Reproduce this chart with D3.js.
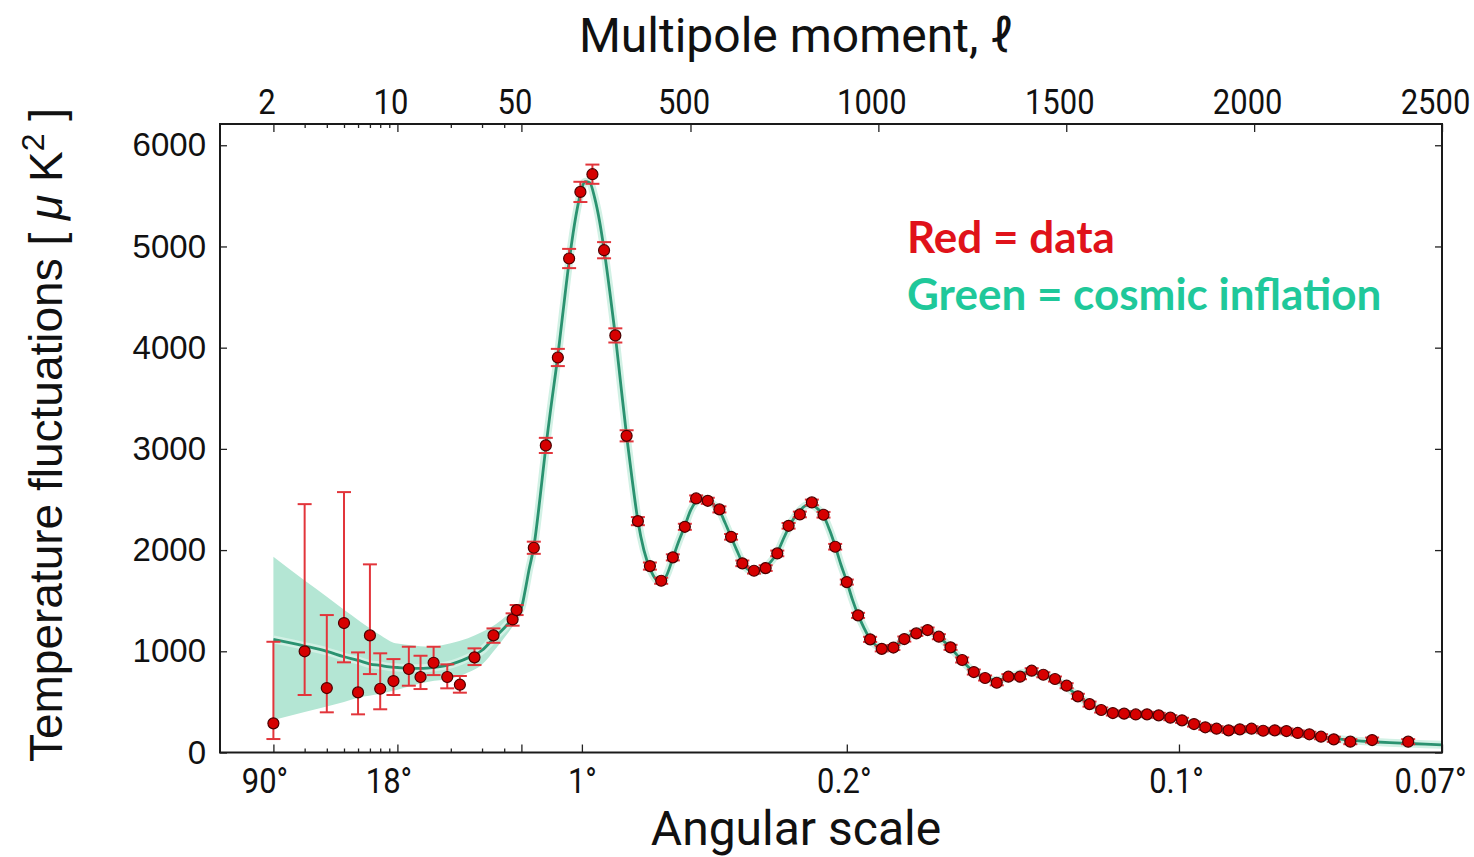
<!DOCTYPE html>
<html><head><meta charset="utf-8">
<script src="https://cdn.jsdelivr.net/npm/d3@7"></script>
<style>
body{margin:0;background:#fff}
svg{display:block}
.tk text{font-family:Roboto,"DejaVu Sans",sans-serif;font-size:36px;fill:#111}
.yt text{font-family:"Liberation Sans",Arial,sans-serif;font-size:33px;fill:#111}
.tk line,.yt line{stroke:#222;stroke-width:1.3}
</style>
</head><body><svg id="c" width="1474" height="857"></svg>
<script>
// ---------- tick definitions ----------
const topTicks = [2,10,50,500,1000,1500,2000,2500];
const topTickLabels = ["2","10","50","500","1000","1500","2000","2500"];
const logMinorTicks = [3,4,5,6,7,8,9,20,30,40];
const angleTickEll = [2,10,50,211,916,1800,2500];
const angleTickLabels = ["90°","18°","","1°","0.2°","0.1°","0.07°"];
const yTicks = [0,1000,2000,3000,4000,5000,6000];

// ---------- low-l data (asymmetric error bars) ----------
const lowEll  = [2,3,4,5,6,7,8,9.5,11.6,13.5,16,19.1,22.5,27.2,34.8,44.6,47];
const lowVal  = [288,1000,637,1279,594,1157,630,706,825,746,887,746,670,940,1157,1315,1407];
const lowLo   = [133,568,397,891,377,775,427,568,660,627,765,634,591,864,1084,1253,1358];
const lowHi   = [1094,2454,1358,2573,989,1859,980,923,1045,956,1045,871,756,1029,1226,1375,1457];

// ---------- high-l binned data ----------
const highEll = [83,115,147,177,207,239,270,300,330,360,392,422,453,485,515,546,577,608,638,669,700,731,761,791,823,854,885,916,946,978,1009,1040,1069,1101,1131,1161,1192,1223,1254,1284,1315,1346,1377,1408,1439,1470,1501,1531,1562,1593,1624,1654,1685,1715,1746,1777,1808,1840,1870,1900,1932,1962,1993,2024,2055,2086,2116,2147,2178,2212,2256,2314,2410];
const highVal = [2023,3034,3903,4881,5539,5714,4963,4121,3129,2286,1842,1697,1928,2230,2510,2487,2402,2131,1869,1796,1822,1967,2240,2352,2471,2349,2033,1684,1355,1118,1024,1037,1121,1177,1210,1144,1039,914,795,736,689,749,749,808,768,726,660,555,478,420,390,384,376,377,367,344,318,281,249,235,219,229,235,215,219,212,193,180,156,130,107,123,107];
const highErr = [60,75,85,95,100,95,80,70,55,40,35,30,30,30,30,30,30,28,28,28,28,28,28,28,28,28,28,25,25,25,25,25,25,25,25,25,25,25,25,25,25,25,25,25,25,25,25,25,25,25,25,25,25,25,25,25,25,25,25,25,25,25,25,25,25,25,25,25,25,25,25,25,25];

// ---------- theory (cosmic inflation) curve ----------
const theoryEll = [2,3,4,5,6,7,8,9,10,12,14,16,19,22,25,30,35,40,45,50,60,70,83,100,115,130,147,160,177,195,207,220,232,245,258,270,285,300,315,330,345,360,376,392,407,420,435,452,468,485,500,515,530,546,561,577,592,608,623,638,653,669,685,700,715,731,746,761,776,791,807,820,835,854,870,885,900,916,931,946,962,978,993,1009,1025,1040,1055,1069,1085,1101,1116,1131,1146,1161,1177,1192,1208,1223,1238,1254,1269,1284,1300,1315,1330,1346,1361,1377,1392,1408,1423,1439,1454,1470,1485,1501,1516,1531,1547,1562,1578,1593,1608,1624,1639,1654,1670,1685,1700,1715,1731,1746,1762,1777,1793,1808,1824,1840,1855,1870,1885,1900,1916,1932,1947,1962,1978,1993,2009,2024,2040,2055,2070,2086,2101,2116,2131,2147,2162,2178,2195,2212,2235,2256,2285,2314,2360,2410,2455,2500];
const theoryVal = [1118,1052,1000,946,910,874,860,845,840,832,832,840,860,895,935,1010,1130,1230,1330,1430,1600,1800,2030,2530,3020,3450,3920,4330,4850,5300,5520,5640,5630,5480,5250,4970,4560,4120,3620,3130,2690,2290,2000,1820,1715,1690,1740,1910,2080,2240,2390,2480,2510,2490,2450,2390,2270,2130,2000,1880,1810,1790,1795,1830,1890,1975,2100,2220,2320,2390,2440,2450,2420,2340,2200,2040,1860,1690,1510,1360,1230,1120,1060,1030,1030,1045,1080,1120,1160,1190,1205,1205,1180,1140,1090,1035,970,905,850,795,760,735,720,715,725,745,765,780,790,790,780,765,745,720,690,650,605,560,515,478,448,425,408,395,388,383,380,377,375,372,368,362,355,344,330,316,300,283,266,252,242,234,228,224,222,222,222,221,219,216,213,210,206,201,195,189,182,175,167,158,148,139,129,121,113,106,97,89,82,76];

// ---------- cosmic variance band (low l) ----------
const bandEll  = [2,3,4,5,6,8,9.5,10,12,15,20,25,30,36,42,47,50];
const bandLow  = [321,400,455,500,540,580,610,620,660,700,730,790,870,1030,1180,1300,1360];
const bandHigh = [1934,1700,1540,1410,1310,1160,1085,1078,1060,1045,1080,1130,1190,1269,1360,1424,1500];

// ---------- layout ----------
const L = 220, T = 124, W = 1222, H = 628.5, SPLIT = 301.4;
const angleLabelNudge = [-9,-9,0,0,-3,-3,-12];
const svg = d3.select("#c");
svg.append("rect").attr("width",1474).attr("height",857).attr("fill","#fff");
const g = svg.append("g").attr("transform",`translate(${L},${T})`);

const xLog = d3.scaleLog().domain([1,50]).range([0,SPLIT]);
const xLin = d3.scaleLinear().domain([50,2500]).range([SPLIT,W]);
function x(v){ return v <= 50 ? xLog(v) : xLin(v); }
x.domain = () => [1,2500];
x.range = () => [0,W];
x.copy = () => x;
const y = d3.scaleLinear().domain([0,6210]).range([H,0]);

// band
const band = bandEll.map((l,i)=>({l, lo:bandLow[i], hi:bandHigh[i]}));
g.append("path").datum(band)
  .attr("d", d3.area().x(d=>x(d.l)).y0(d=>y(d.lo)).y1(d=>y(d.hi)).curve(d3.curveMonotoneX))
  .attr("fill","#b4e6d4");

// theory
const theory = theoryEll.map((l,i)=>({l, v:theoryVal[i]}));
const line = d3.line().x(d=>x(d.l)).y(d=>y(d.v)).curve(d3.curveMonotoneX);
g.append("path").datum(theory).attr("d",line)
  .attr("fill","none").attr("stroke","#d2f1e5").attr("stroke-width",8).attr("stroke-linejoin","round");
g.append("path").datum(theory).attr("d",line)
  .attr("fill","none").attr("stroke","#2a9270").attr("stroke-width",2.8);

// data
const pts = lowEll.map((l,i)=>({l, v:lowVal[i], lo:lowLo[i], hi:lowHi[i]}))
  .concat(highEll.map((l,i)=>({l, v:highVal[i], lo:highVal[i]-highErr[i], hi:highVal[i]+highErr[i]})));
const eb = g.append("g").attr("stroke","#e2353b").attr("stroke-width",2);
pts.forEach(d=>{
  const cx = x(d.l);
  eb.append("line").attr("x1",cx).attr("x2",cx).attr("y1",y(d.lo)).attr("y2",y(d.hi));
  eb.append("line").attr("x1",cx-7).attr("x2",cx+7).attr("y1",y(d.lo)).attr("y2",y(d.lo));
  eb.append("line").attr("x1",cx-7).attr("x2",cx+7).attr("y1",y(d.hi)).attr("y2",y(d.hi));
});
g.append("g").selectAll("circle").data(pts).join("circle")
  .attr("cx",d=>x(d.l)).attr("cy",d=>y(d.v)).attr("r",5.5)
  .attr("fill","#d60000").attr("stroke","#4a0000").attr("stroke-width",1.2);

// axes
const topAx = g.append("g").attr("class","tk")
  .call(d3.axisTop(x).tickValues(topTicks).tickFormat((d,i)=>topTickLabels[i]).tickSizeInner(-8).tickSizeOuter(0).tickPadding(10));
topAx.select(".domain").remove();
topAx.selectAll("text").attr("transform","translate(-7,0) scale(0.86,1)");
const topMin = g.append("g").attr("class","tk")
  .call(d3.axisTop(x).tickValues(logMinorTicks).tickFormat("").tickSizeInner(-4).tickSizeOuter(0));
topMin.select(".domain").remove();

const botAx = g.append("g").attr("class","tk").attr("transform",`translate(0,${H})`)
  .call(d3.axisBottom(x).tickValues(angleTickEll).tickFormat((d,i)=>angleTickLabels[i]).tickSizeInner(-8).tickSizeOuter(0).tickPadding(15));
botAx.select(".domain").remove();
botAx.selectAll("text").attr("transform",(d,i)=>`translate(${angleLabelNudge[i]},0) scale(0.86,1)`);
const botMin = g.append("g").attr("class","tk").attr("transform",`translate(0,${H})`)
  .call(d3.axisBottom(x).tickValues(logMinorTicks).tickFormat("").tickSizeInner(-4).tickSizeOuter(0));
botMin.select(".domain").remove();

const leftAx = g.append("g").attr("class","yt")
  .call(d3.axisLeft(y).tickValues(yTicks).tickFormat(d3.format("d")).tickSizeInner(-7).tickSizeOuter(0).tickPadding(14));
leftAx.select(".domain").remove();
const rightAx = g.append("g").attr("class","yt").attr("transform",`translate(${W},0)`)
  .call(d3.axisRight(y).tickValues(yTicks).tickFormat("").tickSizeInner(-7).tickSizeOuter(0));
rightAx.select(".domain").remove();

// frame
g.append("rect").attr("width",W).attr("height",H).attr("fill","none").attr("stroke","#1a1a1a").attr("stroke-width",2);

// titles
svg.append("text").attr("x",796).attr("y",52).attr("text-anchor","middle")
  .style("font-family","Roboto,'DejaVu Sans',sans-serif").style("font-size","48px").style("fill","#111")
  .text("Multipole moment, ℓ");
svg.append("text").attr("x",796).attr("y",845).attr("text-anchor","middle")
  .style("font-family","Roboto,'DejaVu Sans',sans-serif").style("font-size","48px").style("fill","#111")
  .text("Angular scale");
const yt = svg.append("text").attr("transform","translate(62,435) rotate(-90)").attr("text-anchor","middle")
  .style("font-family","'Liberation Sans',Arial,sans-serif").style("font-size","46px").style("fill","#111");
yt.append("tspan").text("Temperature fluctuations [ ");
yt.append("tspan").style("font-style","italic").text("μ");
yt.append("tspan").text(" K");
yt.append("tspan").attr("dy",-18).style("font-size","32px").text("2");
yt.append("tspan").attr("dy",18).text(" ]");

// legend
svg.append("text").attr("x",907).attr("y",253)
  .style("font-family","Lato,'Open Sans',sans-serif").style("font-weight","bold").style("font-size","44px").style("fill","#e0121a")
  .text("Red = data");
svg.append("text").attr("x",907).attr("y",310)
  .style("font-family","Lato,'Open Sans',sans-serif").style("font-weight","bold").style("font-size","44px").style("fill","#1fc89a")
  .text("Green = cosmic inflation");
</script>
</body></html>
